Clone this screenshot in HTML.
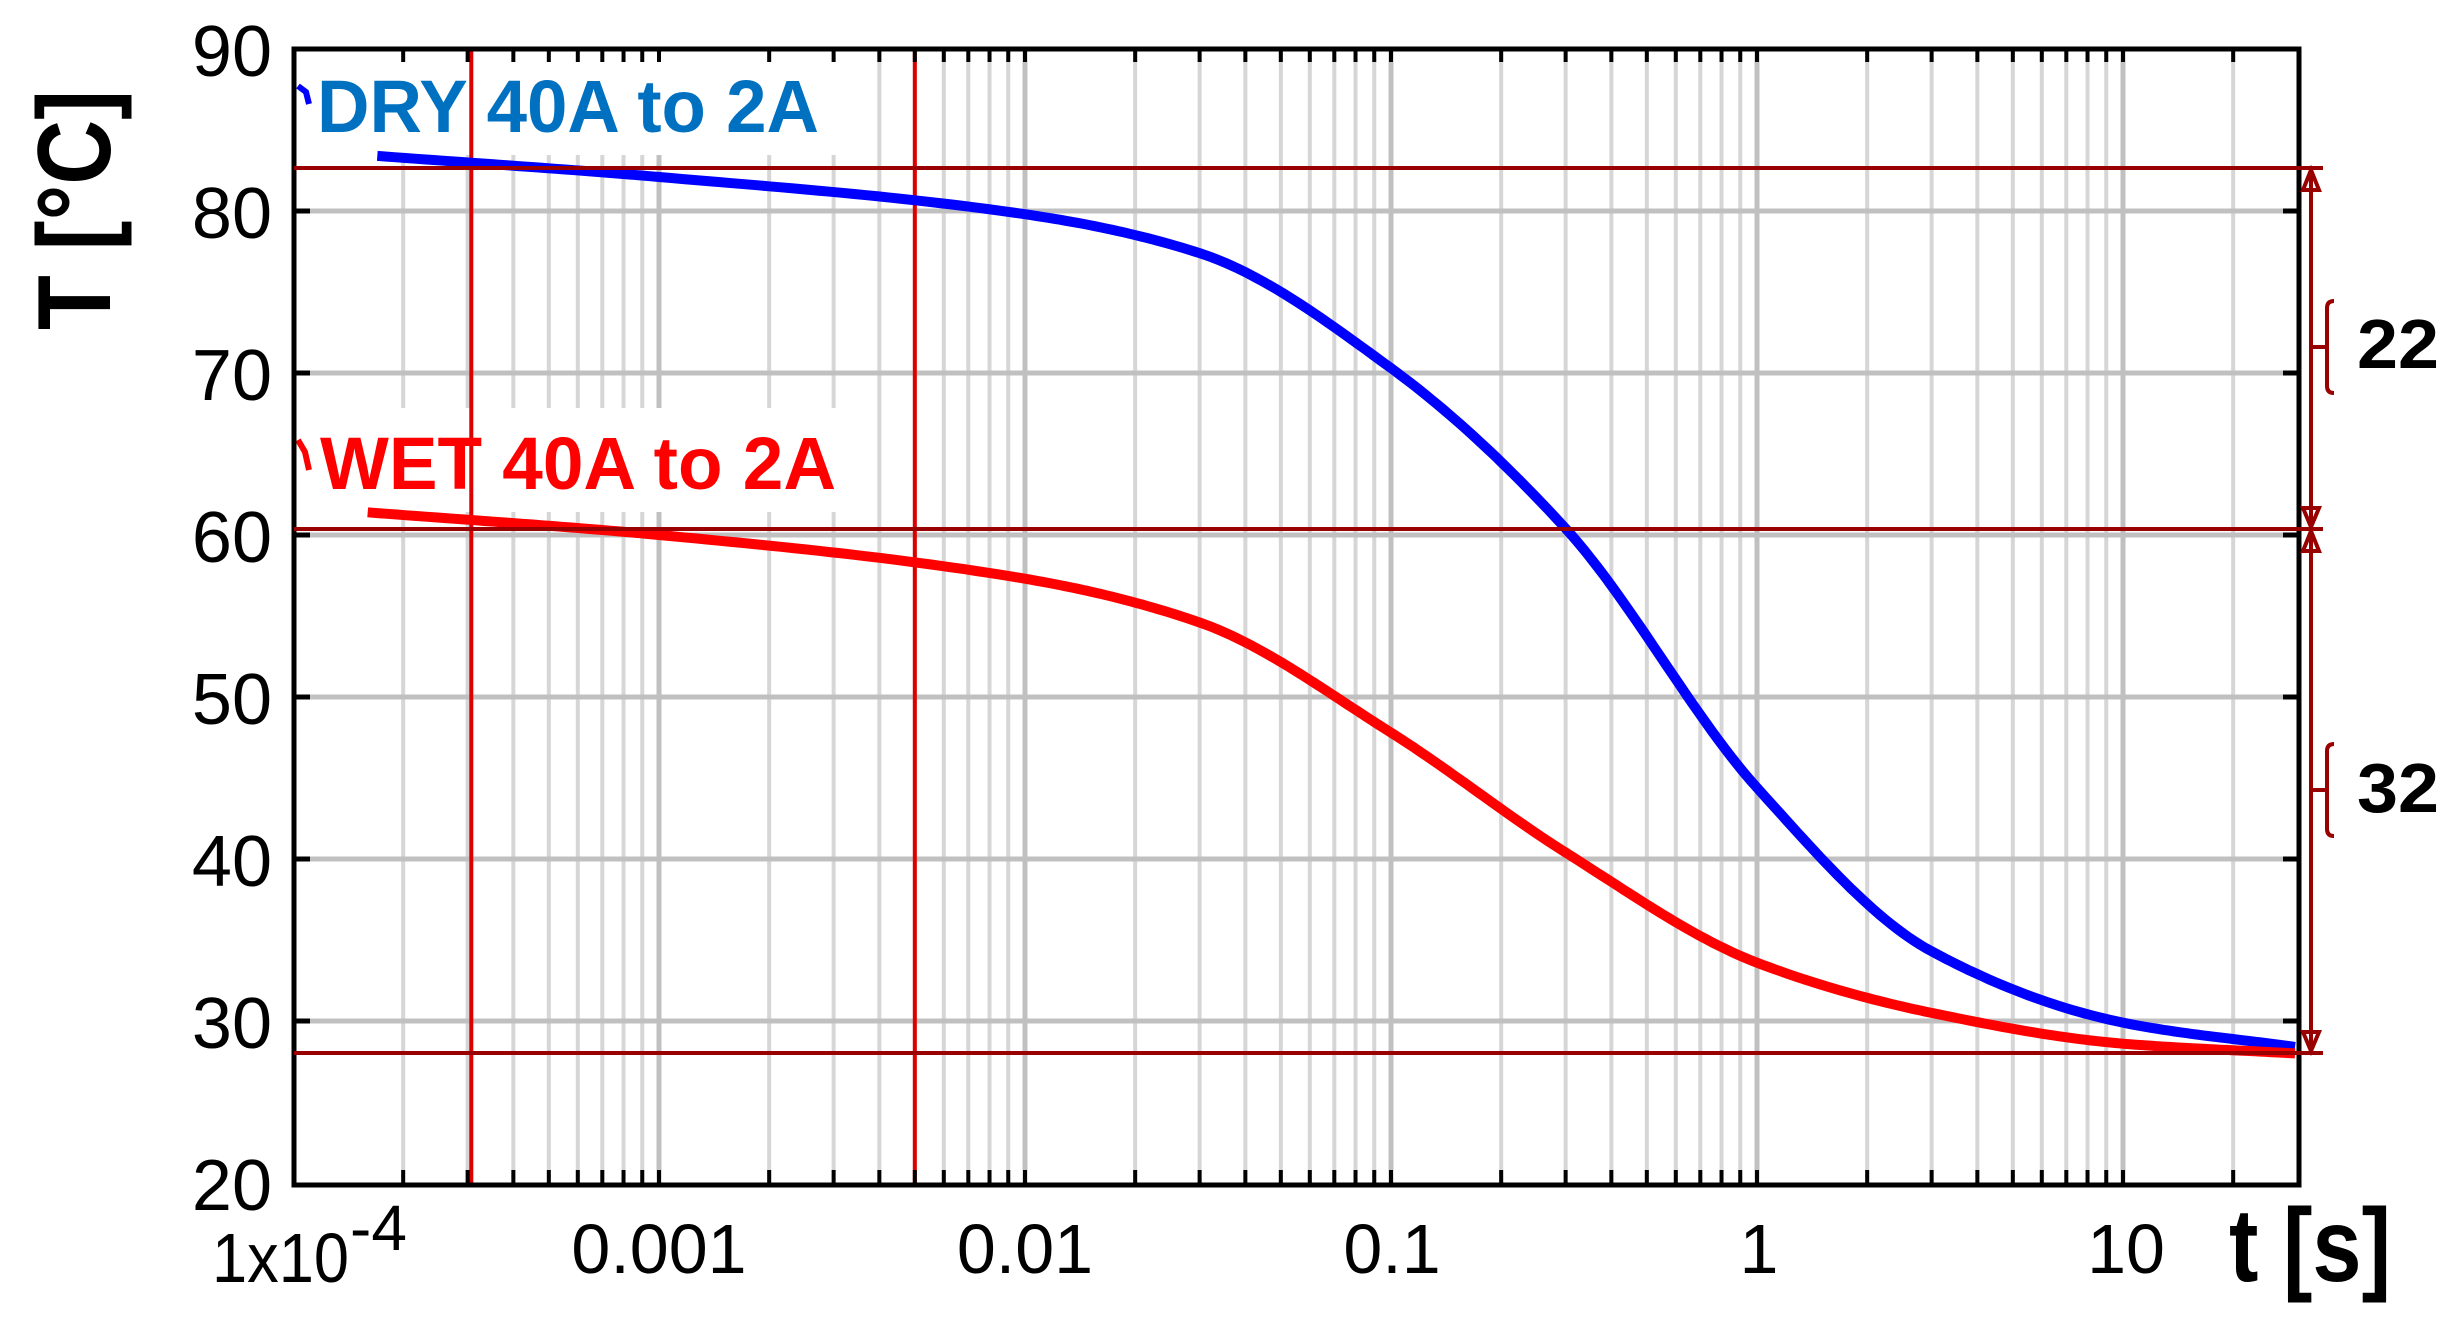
<!DOCTYPE html>
<html><head><meta charset="utf-8"><style>
html,body{margin:0;padding:0;background:#fff;}
svg{display:block;}
text{font-family:"Liberation Sans",Arial,sans-serif;}
</style></head><body>
<svg id="s" width="2455" height="1330" viewBox="0 0 2455 1330" xmlns="http://www.w3.org/2000/svg">
<rect width="2455" height="1330" fill="#fff"/>
<g id="grid"></g>
<rect x="297" y="52" width="572" height="103" fill="#fff"/>
<rect x="297" y="408" width="572" height="104" fill="#fff"/>
<g id="curves"></g>
<g id="ticks"></g>
<rect x="294" y="49" width="2005" height="1136" fill="none" stroke="#000" stroke-width="5"/>
<g font-size="72" text-anchor="end" fill="#000" id="ylab"></g>
<g font-size="70" text-anchor="middle" fill="#000">
<text x="659" y="1273">0.001</text>
<text x="1025" y="1273">0.01</text>
<text x="1392" y="1273">0.1</text>
<text x="1759" y="1273">1</text>
<text x="2126" y="1273">10</text>
</g>
<text x="212" y="1282" font-size="70" textLength="137" lengthAdjust="spacingAndGlyphs">1x10</text>
<text x="350" y="1250" font-size="64">-4</text>
<text x="2229" y="1281" font-size="104" font-weight="bold" textLength="162" lengthAdjust="spacingAndGlyphs">t [s]</text>
<text transform="translate(110,330) rotate(-90)" font-size="104" font-weight="bold" textLength="240" lengthAdjust="spacingAndGlyphs">T [°C]</text>
<text x="317" y="132" font-size="74" font-weight="bold" fill="#0070c0" textLength="502" lengthAdjust="spacingAndGlyphs">DRY 40A to 2A</text>
<text x="320" y="489" font-size="74" font-weight="bold" fill="#ff0000" textLength="516" lengthAdjust="spacingAndGlyphs">WET 40A to 2A</text>
<g stroke="#990000" stroke-width="4" fill="none">
<line x1="294" y1="168" x2="2323" y2="168"/>
<line x1="294" y1="529" x2="2323" y2="529"/>
<line x1="294" y1="1053" x2="2323" y2="1053"/>
<line x1="2311" y1="168" x2="2311" y2="1053"/>
<path d="M2303 190 L2311 170 L2319 190 Z"/>
<path d="M2303 508 L2311 527 L2319 508 Z"/>
<path d="M2303 551 L2311 531 L2319 551 Z"/>
<path d="M2303 1032 L2311 1051 L2319 1032 Z"/>
<line x1="2313" y1="347" x2="2327" y2="347"/>
<path d="M2334 301 Q2327 301 2327 308 L2327 386 Q2327 393 2334 393"/>
<line x1="2313" y1="790" x2="2327" y2="790"/>
<path d="M2334 744 Q2327 744 2327 751 L2327 829 Q2327 836 2334 836"/>
</g>
<text x="2357" y="368" font-size="70" font-weight="bold" textLength="82" lengthAdjust="spacingAndGlyphs">22</text>
<text x="2357" y="812" font-size="70" font-weight="bold" textLength="82" lengthAdjust="spacingAndGlyphs">32</text>
</svg>
<script>
(function(){
var NS="http://www.w3.org/2000/svg";
function X(t){return 293+366*(Math.log10(t)+4);}
function Y(T){return 1183-(T-20)*16.2;}
function el(p,n,a){var e=document.createElementNS(NS,n);for(var k in a)e.setAttribute(k,a[k]);p.appendChild(e);return e;}
var g=document.getElementById('grid'),tk=document.getElementById('ticks');
for(var d=-4;d<=1;d++){for(var m=1;m<=9;m++){var t=m*Math.pow(10,d);var x=X(t);if(x<296||x>2297)continue;
 var major=(m==1);
 el(g,'line',{x1:x,y1:49,x2:x,y2:1185,stroke:major?'#c0c0c0':'#d6d6d6','stroke-width':major?5:4});
 el(tk,'line',{x1:x,y1:1185,x2:x,y2:1170,stroke:'#000','stroke-width':4});
 el(tk,'line',{x1:x,y1:49,x2:x,y2:62,stroke:'#000','stroke-width':4});
}}
var yl=document.getElementById('ylab');
for(var T=20;T<=90;T+=10){var y=Y(T);
 if(T>20&&T<90){el(g,'line',{x1:294,y1:y,x2:2299,y2:y,stroke:'#c0c0c0','stroke-width':5});
 el(tk,'line',{x1:294,y1:y,x2:310,y2:y,stroke:'#000','stroke-width':5});
 el(tk,'line',{x1:2299,y1:y,x2:2283,y2:y,stroke:'#000','stroke-width':5});}
 var tx=el(yl,'text',{x:272,y:y+27});tx.textContent=T;}
var c=document.getElementById('curves');
[3.07e-4,0.005].forEach(function(t){var x=X(t);el(c,'line',{x1:x,y1:49,x2:x,y2:1185,stroke:'#dd0000','stroke-width':4});});
function curve(pts,col){
 var xs=pts.map(function(p){return Math.log10(p[0]);}),ys=pts.map(function(p){return p[1];});
 var n=xs.length,dl=[],m=[];
 for(var i=0;i<n-1;i++)dl.push((ys[i+1]-ys[i])/(xs[i+1]-xs[i]));
 m[0]=dl[0];m[n-1]=dl[n-2];
 for(i=1;i<n-1;i++){if(dl[i-1]*dl[i]<=0)m[i]=0;else{var w1=2*(xs[i+1]-xs[i])+(xs[i]-xs[i-1]),w2=(xs[i+1]-xs[i])+2*(xs[i]-xs[i-1]);m[i]=(w1+w2)/(w1/dl[i-1]+w2/dl[i]);}}
 var s='';
 for(i=0;i<n-1;i++){var h=xs[i+1]-xs[i];
  for(var k=0;k<=30;k++){var u=k/30;
   var h00=2*u*u*u-3*u*u+1,h10=u*u*u-2*u*u+u,h01=-2*u*u*u+3*u*u,h11=u*u*u-u*u;
   var lx=xs[i]+u*h,ly=h00*ys[i]+h10*h*m[i]+h01*ys[i+1]+h11*h*m[i+1];
   s+=(s?'L':'M')+(293+366*(lx+4)).toFixed(1)+' '+Y(ly).toFixed(1);}}
 el(c,'path',{d:s,fill:'none',stroke:col,'stroke-width':10,'stroke-linejoin':'round'});
}
curve([[1.7e-4,83.4],[1e-3,82.1],[0.01,79.8],[0.03,77.4],[0.1,70.3],[0.3,60.4],[1,44.4],[3,34.3],[10,29.9],[29.5,28.4]],'#0000ff');
curve([[1.6e-4,61.4],[1e-3,60],[0.01,57.3],[0.03,54.6],[0.1,47.8],[0.3,40.4],[1,33.6],[3,30.5],[10,28.6],[29.5,28.0]],'#ff0000');
el(c,'path',{d:'M298 86 L306 92 L309 104',fill:'none',stroke:'#0000ff','stroke-width':6});
el(c,'path',{d:'M298 440 L305 452 L309 470',fill:'none',stroke:'#ff0000','stroke-width':6});
})();
</script>
</body></html>
